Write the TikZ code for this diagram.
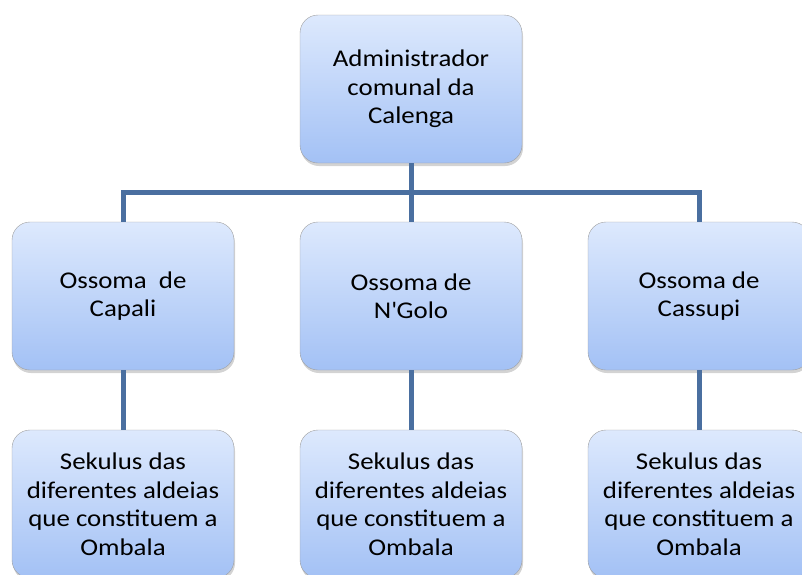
\documentclass[tikz,border=0pt]{standalone}
\usepackage{fontspec}
\setmainfont[FakeStretch=1.12]{Carlito}
\usetikzlibrary{shadows}
\definecolor{linkblue}{HTML}{4A6FA0}
\definecolor{boxtop}{HTML}{DDE9FD}
\definecolor{boxbot}{HTML}{A3C1F5}
\tikzset{
	unitbox/.style={draw=gray!75, rounded corners=18pt, minimum width=222pt, minimum height=148pt,
		top color=boxtop, bottom color=boxbot, align=center, inner sep=0pt,
		font=\fontsize{24}{28.5}\selectfont,
		drop shadow={shadow xshift=1pt, shadow yshift=-3pt, opacity=0.35}},
	link/.style={draw=linkblue, line width=5pt}
}
\begin{document}
\begin{tikzpicture}[x=1pt,y=-1pt]
\useasboundingbox (0,0) rectangle (802,574);
% units
\node[unitbox] (admin) at (411,89) {Administrador\\comunal da\\Calenga};
\node[unitbox] (capali) at (123,296) {Ossoma\ \ de\\Capali};
\node[unitbox] (ngolo) at (411,296) {Ossoma de\\N\textquotesingle Golo};
\node[unitbox] (cassupi) at (699,296) {Ossoma de\\Cassupi};
\foreach \n/\x in {capali/123,ngolo/411,cassupi/699}{
	\node[unitbox] (sek\n) at (\x,504) {Sekulus das\\diferentes aldeias\\que constituem a\\Ombala};
}
% links
\coordinate (bus) at (411,192);
\draw[link] (admin.south) -- (bus);
\draw[link] (capali.north) -- (capali.north |- bus) -- (cassupi.north |- bus) -- (cassupi.north);
\draw[link] (bus) -- (ngolo.north);
\foreach \n in {capali,ngolo,cassupi}{
	\draw[link] (\n.south) -- (sek\n.north);
}
\end{tikzpicture}
\end{document}
